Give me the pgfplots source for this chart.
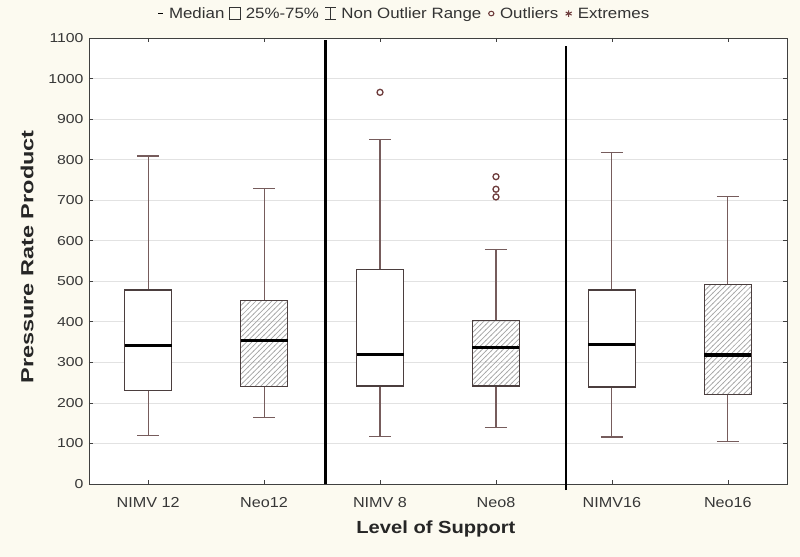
\documentclass[border=0pt]{standalone}
\usepackage{pgfplots}
\pgfplotsset{compat=1.18}
\usetikzlibrary{patterns,backgrounds}
\usepackage{fontspec}
\setmainfont{Liberation Sans}
\definecolor{cream}{RGB}{252,250,240}
\definecolor{whc}{RGB}{118,92,92}
\definecolor{boxc}{RGB}{75,62,62}
\definecolor{outc}{RGB}{110,60,60}
\definecolor{gridc}{RGB}{226,226,226}
\definecolor{tickc}{RGB}{55,55,55}
\pgfdeclarepatternformonly{myhatch}{\pgfqpoint{-1pt}{-1pt}}{\pgfqpoint{6.3pt}{6.3pt}}{\pgfqpoint{5.3pt}{5.3pt}}{%
  \pgfsetlinewidth{0.7pt}%
  \pgfpathmoveto{\pgfqpoint{-0.1pt}{-0.1pt}}%
  \pgfpathlineto{\pgfqpoint{5.4pt}{5.4pt}}%
  \pgfusepath{stroke}}
\pgfplotsset{
  wh/.style={draw=whc, line width=1.1bp, forget plot, mark=none},
  plainb/.style={draw=boxc, line width=1.5bp, fill=white, line cap=rect, line join=miter, forget plot, mark=none},
  hatchb/.style={draw=boxc, line width=1.5bp, pattern=myhatch, pattern color=black!35, line cap=rect, line join=miter, forget plot, mark=none},
  med/.style={draw=black, line width=3.2bp, forget plot, mark=none},
}
\begin{document}
\begin{tikzpicture}
\begin{axis}[name=ax, width=698bp, height=446bp, scale only axis,
  xmin=-0.51, xmax=5.51, ymin=0, ymax=1100,
  ytick={0,100,...,1100}, xtick={0,...,5},
  unbounded coords=jump,
  xticklabels={\scalebox{1.12}[1]{NIMV 12},\scalebox{1.12}[1]{Neo12},\scalebox{1.12}[1]{NIMV 8},\scalebox{1.12}[1]{Neo8},\scalebox{1.12}[1]{NIMV16},\scalebox{1.12}[1]{Neo16}},
  yticklabel={\scalebox{1.22}[1]{\pgfmathprintnumber[assume math mode=true,1000 sep={}]{\tick}}},
  xticklabel style={font=\fontsize{14.5}{16}\selectfont, text=tickc, anchor=base, yshift=-23bp},
  yticklabel style={font=\fontsize{13}{15}\selectfont, text=tickc, anchor=east, xshift=-2bp},
  ymajorgrids, grid style={draw=gridc, line width=0.8bp},
  axis line style={draw=black!75, line width=0.9bp},
  tick style={draw=black!75, line width=0.7bp}, major tick length=4bp, tick align=inside,
  clip=false, axis background/.style={fill=white},
  xlabel={\scalebox{1.15}[1]{Level of Support}},
  xlabel style={font=\bfseries\fontsize{17.6}{20}\selectfont, text=black!85, at={(axis description cs:0.497,-0.112)}, anchor=base},
  ylabel={\scalebox{1.34}[1]{Pressure Rate Product}},
  ylabel style={font=\bfseries\fontsize{17.6}{20}\selectfont, text=black!85, at={(axis description cs:-0.0888,0.509)}, anchor=center},
]
% whiskers: (pos, lower whisker .. lower quartile), (upper quartile .. upper whisker), caps
\addplot[wh] coordinates {(0,119) (0,231) (nan,nan) (0,479) (0,809) (nan,nan) (-0.095,119) (0.095,119) (nan,nan) (-0.095,809) (0.095,809)};
\addplot[wh] coordinates {(1,165) (1,240) (nan,nan) (1,452) (1,728) (nan,nan) (0.905,165) (1.095,165) (nan,nan) (0.905,728) (1.095,728)};
\addplot[wh] coordinates {(2,118) (2,242) (nan,nan) (2,529) (2,850) (nan,nan) (1.905,118) (2.095,118) (nan,nan) (1.905,850) (2.095,850)};
\addplot[wh] coordinates {(3,139) (3,242) (nan,nan) (3,403) (3,579) (nan,nan) (2.905,139) (3.095,139) (nan,nan) (2.905,579) (3.095,579)};
\addplot[wh] coordinates {(4,116) (4,239) (nan,nan) (4,479) (4,818) (nan,nan) (3.905,116) (4.095,116) (nan,nan) (3.905,818) (4.095,818)};
\addplot[wh] coordinates {(5,104) (5,221) (nan,nan) (5,492) (5,709) (nan,nan) (4.905,104) (5.095,104) (nan,nan) (4.905,709) (5.095,709)};
% boxes: lower quartile to upper quartile
\addplot[plainb] coordinates {(-0.2025,231) (0.2025,231) (0.2025,479) (-0.2025,479) (-0.2025,231)};
\addplot[hatchb] coordinates {(0.7975,240) (1.2025,240) (1.2025,452) (0.7975,452) (0.7975,240)};
\addplot[plainb] coordinates {(1.7975,242) (2.2025,242) (2.2025,529) (1.7975,529) (1.7975,242)};
\addplot[hatchb] coordinates {(2.7975,242) (3.2025,242) (3.2025,403) (2.7975,403) (2.7975,242)};
\addplot[plainb] coordinates {(3.7975,239) (4.2025,239) (4.2025,479) (3.7975,479) (3.7975,239)};
\addplot[hatchb] coordinates {(4.7975,221) (5.2025,221) (5.2025,492) (4.7975,492) (4.7975,221)};
% medians
\addplot[med] coordinates {(-0.2025,341) (0.2025,341)};
\addplot[med] coordinates {(0.7975,353) (1.2025,353)};
\addplot[med] coordinates {(1.7975,320) (2.2025,320)};
\addplot[med] coordinates {(2.7975,337) (3.2025,337)};
\addplot[med] coordinates {(3.7975,345) (4.2025,345)};
\addplot[med] coordinates {(4.7975,318) (5.2025,318)};
% outliers
\addplot[only marks, forget plot, mark=o, mark size=3bp, mark options={draw=outc, line width=1.3bp}] coordinates {(2,966) (3,708) (3,727) (3,758)};
% group separators
\addplot[black, line width=2.4bp, forget plot, mark=none] coordinates {(1.53,0) (1.53,1095)};
\addplot[black, line width=2.4bp, forget plot, mark=none] coordinates {(3.605,-15) (3.605,1080)};
\end{axis}
\node[font=\fontsize{15}{17}\selectfont, text=black!80, anchor=center, inner sep=0pt] at ([shift={(314.5bp,24bp)}]ax.north west) {\scalebox{1.13}[1]{%
\tikz[baseline=-0.6ex]\draw[black, line width=1bp] (0bp,0bp) -- (4bp,0bp);\hspace{5bp}Median\hspace{4bp}%
\tikz[baseline=-0.6ex]\draw[black!80, line width=0.9bp] (0bp,-6bp) rectangle (10bp,6.5bp);\hspace{4bp}25\%-75\%\hspace{5bp}%
\tikz[baseline=-0.6ex]\draw[black!80, line width=0.9bp] (0bp,6.5bp)--(10bp,6.5bp) (5bp,6.5bp)--(5bp,-6bp) (0bp,-6bp)--(10bp,-6bp);\hspace{4bp}Non Outlier Range\hspace{6bp}%
\tikz[baseline=-0.6ex]\draw[outc, line width=1bp] (0bp,0bp) circle (2.3bp);\hspace{5bp}Outliers\hspace{6bp}%
\tikz[baseline=-0.6ex]\draw[outc, line width=1bp] (3bp,-3.2bp)--(3bp,3.2bp) (0.3bp,-1.6bp)--(5.7bp,1.6bp) (0.3bp,1.6bp)--(5.7bp,-1.6bp);\hspace{5bp}Extremes}};
\pgfresetboundingbox
\path[use as bounding box] ([shift={(-89bp,-73bp)}]ax.south west) rectangle ([shift={(13bp,38bp)}]ax.north east);
\begin{pgfonlayer}{background}
\fill[cream] ([shift={(-89bp,-73bp)}]ax.south west) rectangle ([shift={(13bp,38bp)}]ax.north east);
\end{pgfonlayer}
\end{tikzpicture}
\end{document}
